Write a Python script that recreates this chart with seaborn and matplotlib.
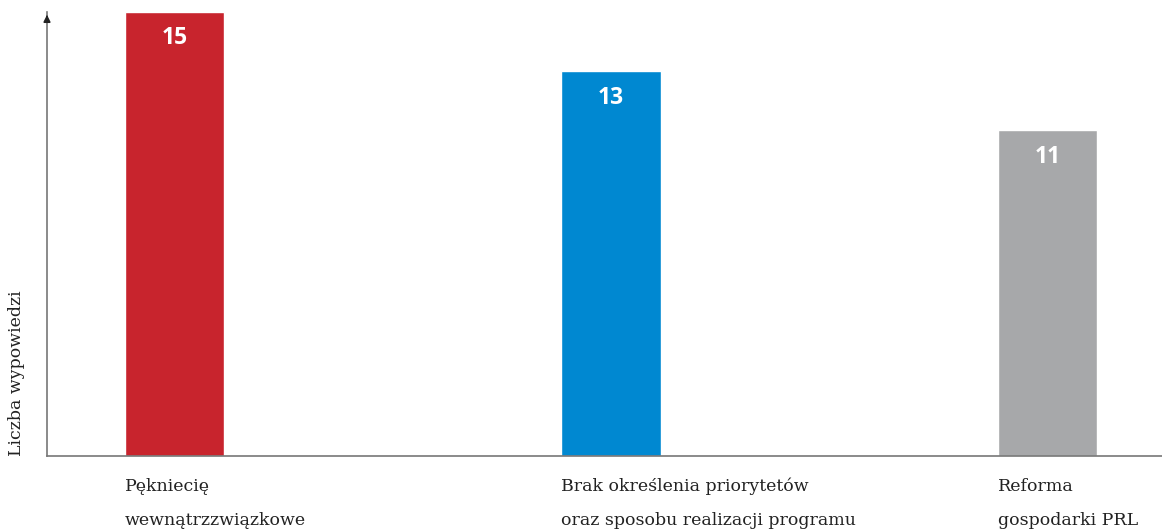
"""
Wykres słupkowy: liczba wypowiedzi
"""
import matplotlib
matplotlib.use('Agg')
import matplotlib.pyplot as plt
import seaborn as sns
import pandas as pd

# dane
categories = [
    'Pękniecię\nwewnątrzzwiązkowe',
    'Brak określenia priorytetów\noraz sposobu realizacji programu',
    'Reforma\ngospodarki PRL',
]
values = [15, 13, 11]
colors = ['#C8242D', '#0088D1', '#A7A8AA']
y_label = 'Liczba wypowiedzi'

sns.set_style('white')
plt.rcParams['font.family'] = ['DejaVu Serif']

df = pd.DataFrame({'kategoria': categories, 'liczba': values})

fig = plt.figure(figsize=(11.62, 5.29), dpi=100)
ax = fig.add_axes([47 / 1162, 73 / 529, 1 - 47 / 1162, (456 - 12) / 529])

sns.barplot(data=df, x='kategoria', y='liczba', hue='kategoria',
            palette=colors, width=0.227, legend=False, ax=ax,
            saturation=1)

ax.set_xlim(-0.292, 2.262)
ax.set_ylim(0, 15)

# etykiety wartości
for i, v in enumerate(values):
    ax.annotate(str(v), xy=(i, v), xytext=(0, -19), textcoords='offset points',
                ha='center', va='center', color='white', fontsize=16.5,
                fontweight='bold', family='Open Sans')

# osie
for s in ['top', 'right']:
    ax.spines[s].set_visible(False)
for s in ['left', 'bottom']:
    ax.spines[s].set_color('#777777')
    ax.spines[s].set_linewidth(1.2)
ax.set_yticks([])
ax.set_xticks([])
ax.set_xlabel('')
ax.set_ylabel('')

# strzałka na osi y
ax.annotate('', xy=(0, 1.0), xycoords='axes fraction',
            xytext=(0, 0.98), textcoords='axes fraction',
            arrowprops=dict(arrowstyle='-|>', color='#222222', lw=1.2,
                            mutation_scale=10))

# etykiety kategorii, wyrównane do lewej krawędzi słupka
line_y = [-0.0788, -0.1554]
for i, cat in enumerate(categories):
    for j, line in enumerate(cat.split('\n')):
        ax.text(i - 0.114, line_y[j], line, transform=ax.get_xaxis_transform(),
                ha='left', va='baseline', fontsize=12.5, color='#222222')

ax.text(-0.361, 0, y_label, transform=ax.get_xaxis_transform(),
        rotation=90, ha='center', va='bottom', fontsize=12.5,
        color='#222222')

plt.savefig('out.png', dpi=100)
